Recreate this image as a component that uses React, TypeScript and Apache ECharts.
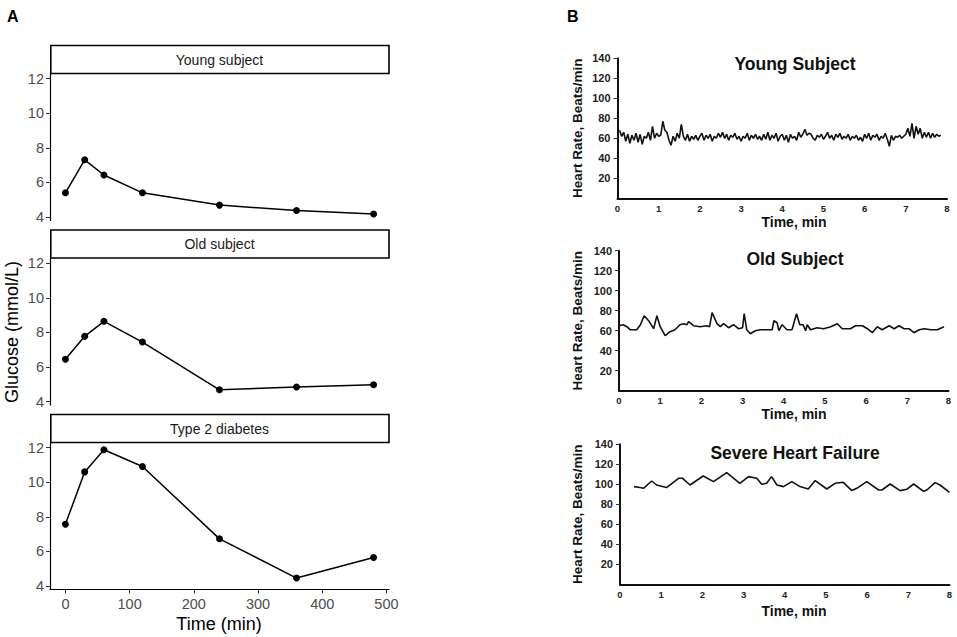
import React, { useEffect, useRef } from "react";
import * as echarts from "echarts";

// ---------- Panel A data ----------
const glucoseTimes = [0, 30, 60, 120, 240, 360, 480];
const youngGlucose = [5.4, 7.31, 6.43, 5.4, 4.69, 4.38, 4.18];
const oldGlucose = [6.45, 7.77, 8.64, 7.44, 4.68, 4.84, 4.97];
const t2dGlucose = [7.57, 10.6, 11.88, 10.91, 6.73, 4.46, 5.65];
const panelNamesA = ["Young subject", "Old subject", "Type 2 diabetes"];
const glucoseTicks = [4, 6, 8, 10, 12];
const timeTicksA = [0, 100, 200, 300, 400, 500];

// ---------- Panel B data ----------
const panelNamesB = ["Young Subject", "Old Subject", "Severe Heart Failure"];
const hrTicks = [20, 40, 60, 80, 100, 120, 140];
const hrTimeTicks = [0, 1, 2, 3, 4, 5, 6, 7, 8];

// young subject: sampled every 0.05 min starting at 0.05 min
const youngHrStart = 0.05;
const youngHrStep = 0.05;
const youngHr = [
  68, 62, 66, 57, 64, 55, 63, 58, 65, 56,
  64, 54, 62, 60, 66, 58, 72, 60, 65, 62,
  63, 77, 68, 66, 58, 53, 62, 57, 65, 60,
  74, 62, 58, 64, 57, 62, 59, 63, 58, 62,
  65, 58, 63, 60, 64, 57, 62, 60, 65, 61,
  66, 60, 64, 58, 63, 61, 65, 59, 62, 57,
  62, 60, 65, 58, 63, 60, 64, 59, 62, 58,
  64, 59, 66, 58, 63, 60, 65, 57, 62, 64,
  58, 63, 56, 64, 60, 62, 58, 66, 61, 64,
  69, 63, 65, 64, 60, 58, 63, 61, 64, 59,
  62, 66, 60, 63, 58, 64, 61, 65, 59, 62,
  60, 64, 58, 62, 60, 63, 58, 61, 57, 64,
  60, 65, 58, 63, 61, 64, 58, 62, 60, 65,
  59, 52, 63, 58, 62, 61, 63, 60, 62, 64,
  70, 62, 75, 60, 72, 64, 70, 60, 66, 61,
  66, 60, 65, 61, 64, 62, 63,
];

const oldHrTime = [
  0, 0.1, 0.19, 0.27, 0.43, 0.52, 0.61, 0.72, 0.84, 0.92,
  1.0, 1.12, 1.24, 1.36, 1.48, 1.56, 1.65, 1.69, 1.81, 1.97,
  2.13, 2.2, 2.26, 2.38, 2.46, 2.54, 2.66, 2.78, 2.9, 3.0,
  3.04, 3.1, 3.19, 3.31, 3.43, 3.59, 3.72, 3.76, 3.84, 3.88,
  3.96, 4.08, 4.2, 4.31, 4.39, 4.47, 4.53, 4.57, 4.65, 4.81,
  4.97, 5.14, 5.3, 5.42, 5.62, 5.74, 5.91, 6.03, 6.15, 6.27,
  6.39, 6.56, 6.68, 6.8, 6.92, 7.04, 7.16, 7.29, 7.41, 7.57,
  7.73, 7.89,
];
const oldHrValue = [
  65, 66, 64, 61, 61, 66, 75, 70, 62, 75,
  64, 55, 59, 61, 66, 67, 66, 69, 65, 64,
  65, 64, 78, 67, 64, 67, 63, 66, 62, 63,
  77, 61, 57, 60, 61, 61, 61, 70, 68, 60,
  66, 61, 61, 77, 66, 66, 60, 66, 61, 63,
  62, 64, 67, 62, 62, 65, 65, 62, 58, 64,
  61, 65, 62, 65, 62, 62, 58, 61, 62, 61,
  61, 64,
];

const hfHrTime = [
  0.34, 0.45, 0.57, 0.77, 0.89, 1.13, 1.42, 1.52, 1.7, 2.02,
  2.27, 2.59, 2.91, 3.12, 3.32, 3.44, 3.56, 3.68, 3.81, 3.97,
  4.17, 4.37, 4.57, 4.74, 5.02, 5.22, 5.42, 5.63, 5.75, 5.99,
  6.28, 6.36, 6.56, 6.8, 6.96, 7.13, 7.37, 7.45, 7.65, 7.77,
  8.0,
];
const hfHrValue = [
  97.7, 97, 96, 103.3, 99.3, 96.7, 106, 106, 99.3, 108.3,
  102.7, 111.7, 101, 107.7, 106, 100, 101, 107.7, 99.3, 97.7,
  102.7, 97.7, 95.3, 103.7, 95.3, 101, 102, 93.7, 96, 102.7,
  94.3, 94.3, 100.3, 93.7, 95, 100.3, 93, 94.3, 101.7, 99.3,
  92,
];

const FONT = "'Liberation Sans', Arial, Helvetica, sans-serif";

export default function App() {
  const ref = useRef<HTMLDivElement>(null);

  useEffect(() => {
    const chart = echarts.init(ref.current as HTMLDivElement, null, { renderer: "svg" });

    const aTops = [73.5, 258, 442.5];
    const aLeft = 50;
    const aWidth = 339;
    const aHeight = 147;

    const bTops = [58.3, 250.7, 444.3];
    const bLefts = [617.5, 619, 620];
    const bWidth = 329.5;
    const bHeight = 140;

    const grids: any[] = [];
    aTops.forEach((t) => grids.push({ left: aLeft, top: t, width: aWidth, height: aHeight }));
    bTops.forEach((t, i) => grids.push({ left: bLefts[i], top: t, width: bWidth, height: bHeight }));

    const xAxes: any[] = [];
    const yAxes: any[] = [];

    // Panel A axes
    for (let i = 0; i < 3; i++) {
      const bottom = i === 2;
      xAxes.push({
        type: "value",
        gridIndex: i,
        min: -24,
        max: 504,
        axisLine: { show: bottom, onZero: false, lineStyle: { color: "#000", width: 1.2 } },
        axisTick: { show: bottom, customValues: timeTicksA, length: 4, lineStyle: { color: "#333", width: 1 } },
        axisLabel: {
          show: bottom,
          customValues: timeTicksA,
          color: "#4d4d4d",
          fontSize: 14.5,
          fontFamily: FONT,
          margin: 7,
        },
        splitLine: { show: false },
      });
      yAxes.push({
        type: "value",
        gridIndex: i,
        min: 3.8,
        max: 12.3,
        axisLine: { show: true, onZero: false, lineStyle: { color: "#000", width: 1.2 } },
        axisTick: { show: true, customValues: glucoseTicks, length: 4, lineStyle: { color: "#333", width: 1 } },
        axisLabel: {
          customValues: glucoseTicks,
          color: "#4d4d4d",
          fontSize: 14.5,
          fontFamily: FONT,
          margin: 6,
        },
        splitLine: { show: false },
      });
    }

    // Panel B axes
    for (let i = 0; i < 3; i++) {
      xAxes.push({
        type: "value",
        gridIndex: 3 + i,
        min: 0,
        max: 8,
        axisLine: { show: true, onZero: false, lineStyle: { color: "#111", width: 2 } },
        axisTick: { show: false, customValues: hrTimeTicks },
        axisLabel: {
          customValues: hrTimeTicks,
          color: "#222",
          fontSize: 9.5,
          fontWeight: "bold",
          fontFamily: FONT,
          margin: 5,
        },
        splitLine: { show: false },
      });
      yAxes.push({
        type: "value",
        gridIndex: 3 + i,
        min: 0,
        max: 140,
        axisLine: { show: true, onZero: false, lineStyle: { color: "#111", width: 2 } },
        axisTick: { show: true, customValues: hrTicks, length: 4, lineStyle: { color: "#333", width: 1 } },
        axisLabel: {
          customValues: hrTicks,
          color: "#222",
          fontSize: 11,
          fontWeight: "bold",
          fontFamily: FONT,
          margin: 7,
        },
        splitLine: { show: false },
      });
    }

    const glucoseSeries = [youngGlucose, oldGlucose, t2dGlucose].map((vals, i) => ({
      type: "line",
      xAxisIndex: i,
      yAxisIndex: i,
      data: glucoseTimes.map((t, j) => [t, vals[j]]),
      symbol: "circle",
      symbolSize: 7,
      itemStyle: { color: "#000" },
      lineStyle: { color: "#000", width: 1.5 },
      silent: true,
    }));

    const youngData = youngHr.map((v, j) => [youngHrStart + j * youngHrStep, v]);
    const oldData = oldHrTime.map((t, j) => [t, oldHrValue[j]]);
    const hfData = hfHrTime.map((t, j) => [t, hfHrValue[j]]);

    const hrSeries = [youngData, oldData, hfData].map((d, i) => ({
      type: "line",
      xAxisIndex: 3 + i,
      yAxisIndex: 3 + i,
      data: d,
      showSymbol: false,
      symbol: "none",
      lineStyle: { color: "#111", width: i === 0 ? 1.6 : 1.6 },
      silent: true,
    }));

    const graphics: any[] = [];
    // panel letters
    graphics.push({
      type: "text",
      x: 7,
      y: 8,
      style: { text: "A", font: `bold 16px ${FONT}`, fill: "#000" },
    });
    graphics.push({
      type: "text",
      x: 567,
      y: 8,
      style: { text: "B", font: `bold 16px ${FONT}`, fill: "#000" },
    });
    // strips for panel A
    aTops.forEach((t, i) => {
      graphics.push({
        type: "rect",
        shape: { x: aLeft + 0.8, y: t - 28, width: aWidth - 0.8, height: 28 },
        style: { fill: "#fff", stroke: "#000", lineWidth: 1.6 },
      });
      graphics.push({
        type: "text",
        x: aLeft + aWidth / 2,
        y: t - 14,
        style: {
          text: panelNamesA[i],
          font: `14px ${FONT}`,
          fill: "#1a1a1a",
          textAlign: "center",
          textVerticalAlign: "middle",
        },
      });
    });
    // panel A axis titles
    graphics.push({
      type: "text",
      x: 12,
      y: 332,
      rotation: Math.PI / 2,
      style: {
        text: "Glucose (mmol/L)",
        font: `18px ${FONT}`,
        fill: "#000",
        textAlign: "center",
        textVerticalAlign: "middle",
      },
    });
    graphics.push({
      type: "text",
      x: 219,
      y: 624,
      style: {
        text: "Time (min)",
        font: `18px ${FONT}`,
        fill: "#000",
        textAlign: "center",
        textVerticalAlign: "middle",
      },
    });
    // panel B titles and axis titles
    const bTitleY = [64, 259, 453];
    const bXTitleY = [221.5, 413.5, 611];
    bTops.forEach((t, i) => {
      graphics.push({
        type: "text",
        x: 795,
        y: bTitleY[i],
        style: {
          text: panelNamesB[i],
          font: `bold 17.5px ${FONT}`,
          fill: "#111",
          textAlign: "center",
          textVerticalAlign: "middle",
        },
      });
      graphics.push({
        type: "text",
        x: 794,
        y: bXTitleY[i],
        style: {
          text: "Time, min",
          font: `bold 14px ${FONT}`,
          fill: "#111",
          textAlign: "center",
          textVerticalAlign: "middle",
        },
      });
      graphics.push({
        type: "text",
        x: 577,
        y: t + bHeight / 2,
        rotation: Math.PI / 2,
        style: {
          text: "Heart Rate, Beats/min",
          font: `bold 13.5px ${FONT}`,
          fill: "#111",
          textAlign: "center",
          textVerticalAlign: "middle",
        },
      });
    });

    chart.setOption({
      animation: false,
      backgroundColor: "#fff",
      grid: grids,
      xAxis: xAxes,
      yAxis: yAxes,
      series: [...glucoseSeries, ...hrSeries],
      graphic: { elements: graphics },
    });

    return () => chart.dispose();
  }, []);

  return (
    <div
      ref={ref}
      style={{ position: "fixed", left: 0, top: 0, width: 957, height: 637, background: "#fff" }}
    />
  );
}
